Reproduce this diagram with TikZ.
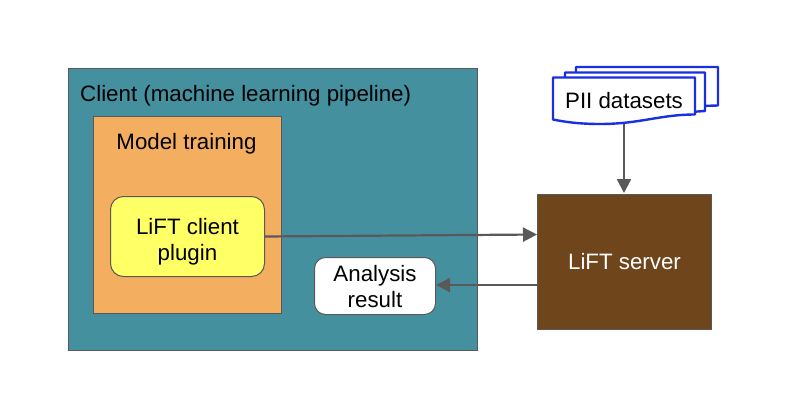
\documentclass[tikz,border=0pt]{standalone}
\usepackage{fontspec}
\setmainfont{Liberation Sans}
\usetikzlibrary{arrows.meta}
\definecolor{teal1}{HTML}{45909F}
\definecolor{orange1}{HTML}{F3AE5F}
\definecolor{yellow1}{HTML}{FFFF66}
\definecolor{brown1}{HTML}{6F451C}
\definecolor{blue1}{HTML}{1A2FE0}
\definecolor{line1}{HTML}{595959}
\tikzset{x=1pt,y=-1pt,
  lbl/.style={font=\fontsize{22.3}{26}\selectfont,text=black,inner sep=0pt,align=center},
  boxs/.style={draw=line1,line width=1pt},
  conn/.style={draw=line1,line width=2.2pt,-{Triangle[length=14pt,width=14pt]}},
  docs/.style={draw=blue1,line width=2.4pt,fill=white,line join=round}}
\begin{document}
\begin{tikzpicture}
\useasboundingbox (0,0) rectangle (800,410);
\fill[white] (0,0) rectangle (800,410);
\node[boxs,fill=teal1,minimum width=409pt,minimum height=282pt,inner sep=0pt,anchor=north west] (client) at (68,68) {};
\node[lbl,anchor=west] (clientl) at (80,95.5) {Client (machine learning pipeline)};
\node[boxs,fill=orange1,minimum width=188pt,minimum height=197pt,inner sep=0pt,anchor=north west] (train) at (93,116) {};
\node[lbl] (trainl) at (186.5,143.5) {Model training};
\node[boxs,fill=yellow1,rounded corners=13pt,minimum width=154pt,minimum height=80pt,inner sep=0pt,anchor=north west,lbl] (plugin) at (110,196) {\raisebox{-11pt}[0pt][0pt]{\begin{tabular}{@{}c@{}}LiFT client\\plugin\end{tabular}}};
\node[boxs,fill=white,rounded corners=11pt,minimum width=121pt,minimum height=57pt,inner sep=0pt,anchor=north west,lbl] (result) at (314,257) {\raisebox{-8.5pt}[0pt][0pt]{\begin{tabular}{@{}c@{}}Analysis\\result\end{tabular}}};
\node[boxs,fill=brown1,minimum width=174pt,minimum height=135pt,inner sep=0pt,anchor=north west,lbl,text=white] (server) at (537,194) {LiFT server};
\draw[docs] (576,67) -- (718,67) -- (718,105.5) -- (700,106) -- (576,106) -- cycle;
\draw[docs] (565,72.5) -- (705,72.5) -- (705,111) -- (690,112) -- (565,112) -- cycle;
\draw[docs] (553,77.5) -- (695,77.5) -- (695,114.5) .. controls (660,114.5) and (640,124) .. (600,124) .. controls (580,124) and (565,122) .. (553,119.5) -- cycle;
\node[lbl] (pii) at (624,101) {PII datasets};
\coordinate (piib) at (624,124);
\coordinate (srvt) at (624,193);
\coordinate (plugr) at (264,236.5);
\coordinate (srvl) at (537,234.5);
\coordinate (srvl2) at (537,285);
\coordinate (resr) at (436,285);
\draw[conn] (piib) -- (srvt);
\draw[conn] (plugr) -- (srvl);
\draw[conn] (srvl2) -- (resr);
\end{tikzpicture}
\end{document}
